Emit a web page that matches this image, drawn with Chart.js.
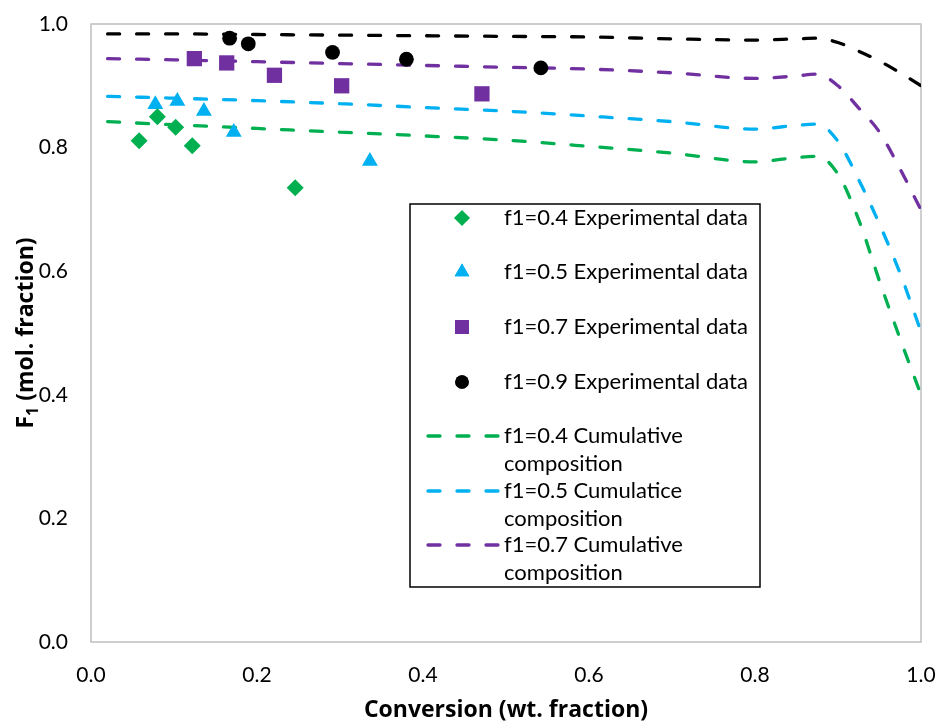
<!DOCTYPE html>
<html>
<head>
<meta charset="utf-8">
<script src="https://cdn.jsdelivr.net/npm/chart.js@4/dist/chart.umd.min.js"></script>
<style>
  html, body { margin: 0; padding: 0; background: #ffffff; }
  #wrap { width: 938px; height: 723px; }
</style>
</head>
<body>
<div id="wrap"><canvas id="c" width="938" height="723"></canvas></div>
<script>
// ---------- data ----------
const axisTicks = [0.0, 0.2, 0.4, 0.6, 0.8, 1.0];

const exp04X = [0.058, 0.080, 0.102, 0.122, 0.246];
const exp04Y = [0.811, 0.850, 0.833, 0.803, 0.735];
const exp05X = [0.0775, 0.104, 0.136, 0.172, 0.336];
const exp05Y = [0.870, 0.875, 0.859, 0.825, 0.778];
const exp07X = [0.1245, 0.1635, 0.221, 0.302, 0.471];
const exp07Y = [0.944, 0.937, 0.917, 0.900, 0.887];
const exp09X = [0.167, 0.1895, 0.291, 0.380, 0.542];
const exp09Y = [0.977, 0.968, 0.954, 0.943, 0.929];

const cumX   = [0.02, 0.1, 0.2, 0.3, 0.4, 0.5, 0.6, 0.7, 0.8, 0.85, 0.875, 0.9, 0.925, 0.95, 0.975, 1.0];
const cum04Y = [0.842, 0.837, 0.831, 0.825, 0.819, 0.812, 0.802, 0.791, 0.777, 0.784, 0.786, 0.757, 0.683, 0.584, 0.490, 0.400];
const cum05Y = [0.883, 0.880, 0.876, 0.871, 0.865, 0.859, 0.851, 0.842, 0.830, 0.836, 0.838, 0.810, 0.748, 0.676, 0.596, 0.502];
const cum07Y = [0.944, 0.942, 0.939, 0.936, 0.933, 0.930, 0.927, 0.921, 0.912, 0.916, 0.919, 0.900, 0.864, 0.825, 0.765, 0.699];
const cum09Y = [0.984, 0.984, 0.983, 0.982, 0.981, 0.980, 0.979, 0.976, 0.974, 0.976, 0.977, 0.970, 0.956, 0.940, 0.921, 0.900];

const seriesLabels = [
  'f1=0.4 Experimental data',
  'f1=0.5 Experimental data',
  'f1=0.7 Experimental data',
  'f1=0.9 Experimental data',
  ['f1=0.4 Cumulative', 'composition'],
  ['f1=0.5 Cumulatice', 'composition'],
  ['f1=0.7 Cumulative', 'composition'],
  ''
];
const xTitle = 'Conversion (wt. fraction)';
const yTitleMain = 'F';
const yTitleSub = '1';
const yTitleRest = ' (mol. fraction)';

// ---------- helpers ----------
const pts = (xs, ys) => xs.map((x, i) => ({ x: x, y: ys[i] }));
const FONT = 'Lato, "Open Sans", sans-serif';
const TFONT = '"Open Sans", Lato, sans-serif';
const GREEN = '#00B050', BLUE = '#00B0F0', PURPLE = '#7030A0', BLACK = '#000000';

function scatterDs(label, data, color, style, r) {
  return {
    type: 'scatter', label: label, data: data,
    pointStyle: style, pointRadius: r, pointHoverRadius: r,
    backgroundColor: color, borderColor: color, pointBorderWidth: 0,
    showLine: false, order: 1
  };
}
function lineDs(label, data, color) {
  return {
    type: 'line', label: label, data: data,
    borderColor: color, backgroundColor: color,
    borderWidth: 3.3, borderDash: [12, 17], borderCapStyle: 'round',
    pointRadius: 0, pointHoverRadius: 0, fill: false,
    cubicInterpolationMode: 'monotone', order: 2
  };
}

const datasets = [
  scatterDs(seriesLabels[0], pts(exp04X, exp04Y), GREEN, 'rectRot', 8.5),
  scatterDs(seriesLabels[1], pts(exp05X, exp05Y), BLUE, 'triangle', 9.2),
  scatterDs(seriesLabels[2], pts(exp07X, exp07Y), PURPLE, 'rect', 10.8),
  scatterDs(seriesLabels[3], pts(exp09X, exp09Y), BLACK, 'circle', 7.4),
  lineDs(seriesLabels[4], pts(cumX, cum04Y), GREEN),
  lineDs(seriesLabels[5], pts(cumX, cum05Y), BLUE),
  lineDs(seriesLabels[6], pts(cumX, cum07Y), PURPLE),
  lineDs(seriesLabels[7], pts(cumX, cum09Y), BLACK)
];

// ---------- plugins ----------
const frame = {
  id: 'frame',
  beforeDatasetsDraw(chart) {
    const { ctx, chartArea: a } = chart;
    ctx.save();
    ctx.strokeStyle = '#BFBFBF';
    ctx.lineWidth = 1.5;
    ctx.strokeRect(a.left, a.top, a.right - a.left, a.bottom - a.top);
    ctx.restore();
  }
};

const yTitlePlugin = {
  id: 'yTitle',
  afterDraw(chart) {
    const { ctx, chartArea: a } = chart;
    const big = 'bold 23px ' + TFONT, small = 'bold 16px ' + TFONT;
    ctx.save();
    ctx.fillStyle = '#000';
    ctx.font = big;
    const wF = ctx.measureText(yTitleMain).width;
    const wR = ctx.measureText(yTitleRest).width;
    ctx.font = small;
    const wS = ctx.measureText(yTitleSub).width;
    const total = wF + wS + wR;
    ctx.translate(33, (a.top + a.bottom) / 2);
    ctx.rotate(-Math.PI / 2);
    ctx.textBaseline = 'alphabetic';
    ctx.textAlign = 'left';
    let x = -total / 2;
    ctx.font = big; ctx.fillText(yTitleMain, x, 0); x += wF;
    ctx.font = small; ctx.fillText(yTitleSub, x, 5); x += wS;
    ctx.font = big; ctx.fillText(yTitleRest, x, 0);
    ctx.restore();
  }
};

const legendBox = {
  id: 'legendBox',
  afterDraw(chart) {
    const { ctx, chartArea: a } = chart;
    const left = a.left + 319, top = a.top + 180, right = a.left + 669, bottom = a.top + 563;
    ctx.save();
    ctx.fillStyle = '#fff';
    ctx.fillRect(left, top, right - left, bottom - top);
    ctx.strokeStyle = '#000';
    ctx.lineWidth = 1.5;
    ctx.strokeRect(left, top, right - left, bottom - top);
    ctx.font = '22px ' + FONT;
    ctx.textBaseline = 'middle';
    ctx.textAlign = 'left';
    ctx.fillStyle = '#000';
    const textX = left + 94, markX = left + 52;
    const rowYs = [14, 68, 123, 178, 232, 287, 341];
    chart.data.datasets.forEach((ds, i) => {
      if (!ds.label || (Array.isArray(ds.label) && !ds.label.length)) return;
      const y = top + rowYs[i];
      if (ds.type === 'scatter') {
        ctx.fillStyle = ds.backgroundColor;
        Chart.helpers.drawPoint(ctx, { pointStyle: ds.pointStyle, radius: ds.pointRadius * 0.92, borderWidth: 0 }, markX, y);
        ctx.fill();
      } else {
        ctx.save();
        ctx.strokeStyle = ds.borderColor;
        ctx.lineWidth = ds.borderWidth;
        ctx.lineCap = 'round';
        ctx.setLineDash(ds.borderDash);
        ctx.beginPath();
        ctx.moveTo(left + 18, y);
        ctx.lineTo(left + 88, y);
        ctx.stroke();
        ctx.restore();
      }
      ctx.fillStyle = '#000';
      const lines = Array.isArray(ds.label) ? ds.label : [ds.label];
      lines.forEach((t, k) => ctx.fillText(t, textX, y + k * 28));
    });
    ctx.restore();
  }
};

// ---------- chart ----------
new Chart(document.getElementById('c'), {
  data: { datasets: datasets },
  options: {
    responsive: false,
    animation: false,
    events: [],
    layout: { padding: { left: 0, top: 24, right: 17, bottom: 0 } },
    plugins: { legend: { display: false }, tooltip: { enabled: false }, title: { display: false } },
    scales: {
      x: {
        type: 'linear', min: 0, max: 1,
        afterFit: s => { s.height = 81; s.paddingLeft = 0; s.paddingRight = 0; },
        afterBuildTicks: s => { s.ticks = axisTicks.map(v => ({ value: v })); },
        ticks: { callback: v => v.toFixed(1), color: '#000', font: { family: FONT, size: 21 }, padding: 21, maxRotation: 0 },
        grid: { display: false, drawTicks: false },
        border: { display: false },
        title: { display: true, text: xTitle, color: '#000', font: { family: TFONT, size: 23, weight: 'bold' }, padding: { top: 0, bottom: -1 } }
      },
      y: {
        type: 'linear', min: 0, max: 1,
        afterFit: s => { s.width = 91; s.paddingTop = 0; s.paddingBottom = 0; },
        afterBuildTicks: s => { s.ticks = axisTicks.map(v => ({ value: v })); },
        ticks: { callback: v => v.toFixed(1), color: '#000', font: { family: FONT, size: 21 }, padding: 23 },
        grid: { display: false, drawTicks: false },
        border: { display: false }
      }
    }
  },
  plugins: [frame, yTitlePlugin, legendBox]
});
</script>
</body>
</html>
